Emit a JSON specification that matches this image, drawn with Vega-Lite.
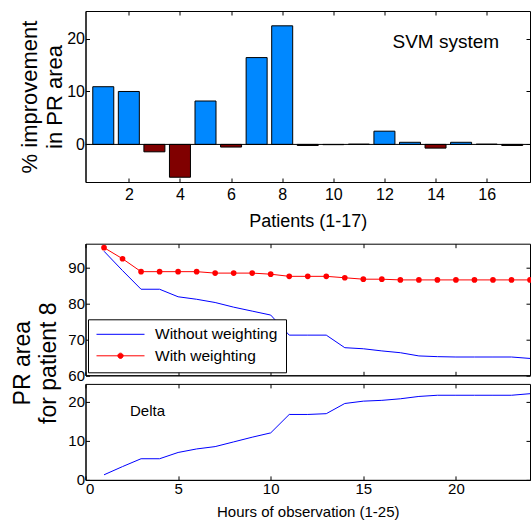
{
  "$schema": "https://vega.github.io/schema/vega-lite/v6.json",
  "padding": {"left": 10.5, "top": 10, "right": 0, "bottom": 0},
  "autosize": {"type": "pad"},
  "background": "white",
  "bounds": "flush",
  "spacing": 61.7,
  "config": {
    "font": "Liberation Sans",
    "view": {"stroke": "black", "strokeWidth": 1},
    "axis": {"grid": false, "domainColor": "black", "tickColor": "black", "labelColor": "black", "titleColor": "black", "tickSize": -4, "labelPadding": 6, "titleFontWeight": "normal", "labelFont": "Liberation Sans", "titleFont": "Liberation Sans"},
    "axisY": {"labelPadding": 5},
    "legend": {"labelFont": "Liberation Sans"},
    "text": {"font": "Liberation Sans", "color": "black"}
  },
  "datasets": {
    "bars": [
      {"patient": 1, "improvement": 10.9},
      {"patient": 2, "improvement": 10.0},
      {"patient": 3, "improvement": -1.4},
      {"patient": 4, "improvement": -6.2},
      {"patient": 5, "improvement": 8.2},
      {"patient": 6, "improvement": -0.5},
      {"patient": 7, "improvement": 16.4},
      {"patient": 8, "improvement": 22.4},
      {"patient": 9, "improvement": -0.2},
      {"patient": 10, "improvement": -0.05},
      {"patient": 11, "improvement": 0.05},
      {"patient": 12, "improvement": 2.5},
      {"patient": 13, "improvement": 0.4},
      {"patient": 14, "improvement": -0.7},
      {"patient": 15, "improvement": 0.4},
      {"patient": 16, "improvement": 0.05},
      {"patient": 17, "improvement": -0.2}
    ],
    "pr": [
      {"hour": 1, "series": "Without weighting", "value": 94.6},
      {"hour": 2, "series": "Without weighting", "value": 89.2},
      {"hour": 3, "series": "Without weighting", "value": 84.0},
      {"hour": 4, "series": "Without weighting", "value": 84.0},
      {"hour": 5, "series": "Without weighting", "value": 81.9},
      {"hour": 6, "series": "Without weighting", "value": 81.2},
      {"hour": 7, "series": "Without weighting", "value": 80.3},
      {"hour": 8, "series": "Without weighting", "value": 79.0},
      {"hour": 9, "series": "Without weighting", "value": 77.9},
      {"hour": 10, "series": "Without weighting", "value": 76.8},
      {"hour": 11, "series": "Without weighting", "value": 71.2},
      {"hour": 12, "series": "Without weighting", "value": 71.2},
      {"hour": 13, "series": "Without weighting", "value": 71.2},
      {"hour": 14, "series": "Without weighting", "value": 67.7},
      {"hour": 15, "series": "Without weighting", "value": 67.4},
      {"hour": 16, "series": "Without weighting", "value": 66.8},
      {"hour": 17, "series": "Without weighting", "value": 66.3},
      {"hour": 18, "series": "Without weighting", "value": 65.4},
      {"hour": 19, "series": "Without weighting", "value": 65.2},
      {"hour": 20, "series": "Without weighting", "value": 65.1},
      {"hour": 21, "series": "Without weighting", "value": 65.1},
      {"hour": 22, "series": "Without weighting", "value": 65.1},
      {"hour": 23, "series": "Without weighting", "value": 65.1},
      {"hour": 24, "series": "Without weighting", "value": 64.7},
      {"hour": 1, "series": "With weighting", "value": 95.6},
      {"hour": 2, "series": "With weighting", "value": 92.5},
      {"hour": 3, "series": "With weighting", "value": 88.9},
      {"hour": 4, "series": "With weighting", "value": 88.9},
      {"hour": 5, "series": "With weighting", "value": 88.9},
      {"hour": 6, "series": "With weighting", "value": 88.9},
      {"hour": 7, "series": "With weighting", "value": 88.5},
      {"hour": 8, "series": "With weighting", "value": 88.5},
      {"hour": 9, "series": "With weighting", "value": 88.5},
      {"hour": 10, "series": "With weighting", "value": 88.2},
      {"hour": 11, "series": "With weighting", "value": 87.6},
      {"hour": 12, "series": "With weighting", "value": 87.6},
      {"hour": 13, "series": "With weighting", "value": 87.6},
      {"hour": 14, "series": "With weighting", "value": 87.2},
      {"hour": 15, "series": "With weighting", "value": 86.8},
      {"hour": 16, "series": "With weighting", "value": 86.8},
      {"hour": 17, "series": "With weighting", "value": 86.6},
      {"hour": 18, "series": "With weighting", "value": 86.6},
      {"hour": 19, "series": "With weighting", "value": 86.6},
      {"hour": 20, "series": "With weighting", "value": 86.6},
      {"hour": 21, "series": "With weighting", "value": 86.6},
      {"hour": 22, "series": "With weighting", "value": 86.6},
      {"hour": 23, "series": "With weighting", "value": 86.6},
      {"hour": 24, "series": "With weighting", "value": 86.6}
    ],
    "delta": [
      {"hour": 1, "delta": 1.3},
      {"hour": 2, "delta": 3.4},
      {"hour": 3, "delta": 5.4},
      {"hour": 4, "delta": 5.4},
      {"hour": 5, "delta": 7.0},
      {"hour": 6, "delta": 7.9},
      {"hour": 7, "delta": 8.5},
      {"hour": 8, "delta": 9.7},
      {"hour": 9, "delta": 10.9},
      {"hour": 10, "delta": 12.0},
      {"hour": 11, "delta": 16.7},
      {"hour": 12, "delta": 16.7},
      {"hour": 13, "delta": 16.9},
      {"hour": 14, "delta": 19.5},
      {"hour": 15, "delta": 20.1},
      {"hour": 16, "delta": 20.3},
      {"hour": 17, "delta": 20.7},
      {"hour": 18, "delta": 21.3},
      {"hour": 19, "delta": 21.6},
      {"hour": 20, "delta": 21.6},
      {"hour": 21, "delta": 21.6},
      {"hour": 22, "delta": 21.6},
      {"hour": 23, "delta": 21.6},
      {"hour": 24, "delta": 22.0}
    ]
  },
  "vconcat": [
    {
      "width": 444.5,
      "height": 171,
      "data": {"name": "bars"},
      "layer": [
        {
          "mark": {"type": "bar", "stroke": "black", "strokeWidth": 1, "width": 21},
          "encoding": {
            "x": {"field": "patient", "type": "quantitative",
                  "scale": {"domain": [0.5, 17.5], "nice": false, "zero": false},
                  "axis": {"orient": "bottom", "values": [2, 4, 6, 8, 10, 12, 14, 16], "labelFontSize": 16, "labelPadding": 8, "title": "Patients (1-17)", "titleFontSize": 18, "titlePadding": 10}},
            "y": {"field": "improvement", "type": "quantitative",
                  "scale": {"domain": [-7.1, 25.2], "nice": false, "zero": false},
                  "axis": {"orient": "left", "values": [0, 10, 20], "labelFontSize": 16, "title": ["% improvement", "in PR area"], "titleFontSize": 22, "titleLineHeight": 25, "titlePadding": 0}},
            "color": {"condition": {"test": "datum.improvement < 0", "value": "#800000"}, "value": "#0088ff"}
          }
        },
        {
          "data": {"values": [{}]},
          "mark": {"type": "rule", "color": "black", "strokeWidth": 1},
          "encoding": {"y": {"datum": 0, "axis": null}}
        },
        {
          "data": {"values": [{}]},
          "mark": {"type": "text", "fontSize": 19},
          "encoding": {"x": {"datum": 14.4, "axis": null}, "y": {"datum": 19.3, "axis": null}, "text": {"value": "SVM system"}}
        },
        {
          "mark": {"type": "point", "opacity": 0},
          "encoding": {
            "x": {"field": "patient", "type": "quantitative", "axis": {"orient": "top", "values": [2, 4, 6, 8, 10, 12, 14, 16], "labels": false, "domain": false, "title": null}},
            "y": {"field": "improvement", "type": "quantitative", "axis": {"orient": "right", "values": [0, 10, 20], "labels": false, "domain": false, "title": null}}
          }
        }
      ],
      "resolve": {"axis": {"x": "independent", "y": "independent"}}
    },
    {
      "bounds": "flush",
      "spacing": 8.2,
      "vconcat": [
        {
          "width": 444.5,
          "height": 131.6,
          "data": {"name": "pr"},
          "layer": [
            {
              "mark": {"type": "line", "strokeWidth": 1},
              "encoding": {
                "x": {"field": "hour", "type": "quantitative", "scale": {"domain": [0, 24], "nice": false},
                      "axis": {"orient": "bottom", "values": [0, 5, 10, 15, 20], "labels": false, "title": null}},
                "y": {"field": "value", "type": "quantitative", "scale": {"domain": [60, 96.7], "nice": false, "zero": false},
                      "axis": {"orient": "left", "values": [60, 70, 80, 90], "labelFontSize": 15, "title": ["PR area", "for patient 8"], "titleFontSize": 23, "titleLineHeight": 26, "titleY": 119, "titlePadding": 7}},
                "color": {"field": "series", "type": "nominal",
                          "scale": {"domain": ["Without weighting", "With weighting"], "range": ["#0000ff", "#ff0000"]},
                          "legend": {
                            "title": null, "orient": "none", "legendX": 2.5, "legendY": 308.3,
                            "fillColor": "white", "strokeColor": "black", "padding": 8,
                            "labelFontSize": 15.5, "labelColor": "black", "labelOffset": 10,
                            "symbolType": "stroke", "symbolSize": 2304, "symbolStrokeWidth": 1,
                            "clipHeight": 14, "rowPadding": 5.5,
                            "encode": {
                              "symbols": {"update": {
                                "shape": {"signal": "datum.value === 'With weighting' ? 'M-1,0H1M0.11,0A0.11,0.11 0 1,1 -0.11,0A0.11,0.11 0 1,1 0.11,0Z' : 'M-1,0H1'"},
                                "fill": {"signal": "datum.value === 'With weighting' ? '#ff0000' : 'transparent'"}
                              }}
                            }
                          }}
              }
            },
            {
              "transform": [{"filter": "datum.series === 'With weighting'"}],
              "mark": {"type": "point", "filled": true, "color": "#ff0000", "size": 32, "opacity": 1},
              "encoding": {
                "x": {"field": "hour", "type": "quantitative", "axis": null},
                "y": {"field": "value", "type": "quantitative", "axis": null}
              }
            },
            {
              "mark": {"type": "point", "opacity": 0},
              "encoding": {
                "x": {"field": "hour", "type": "quantitative", "axis": {"orient": "top", "values": [0, 5, 10, 15, 20], "labels": false, "domain": false, "title": null}},
                "y": {"field": "value", "type": "quantitative", "axis": {"orient": "right", "values": [60, 70, 80, 90], "labels": false, "domain": false, "title": null}}
              }
            }
          ],
          "resolve": {"axis": {"x": "independent", "y": "independent"}}
        },
        {
          "width": 444.5,
          "height": 96,
          "data": {"name": "delta"},
          "layer": [
            {
              "mark": {"type": "line", "color": "#0000ff", "strokeWidth": 1},
              "encoding": {
                "x": {"field": "hour", "type": "quantitative", "scale": {"domain": [0, 24], "nice": false},
                      "axis": {"orient": "bottom", "values": [0, 5, 10, 15, 20], "labelFontSize": 15, "title": "Hours of observation (1-25)", "titleFontSize": 15, "titlePadding": 8}},
                "y": {"field": "delta", "type": "quantitative", "scale": {"domain": [0, 24.5], "nice": false},
                      "axis": {"orient": "left", "values": [0, 10, 20], "labelFontSize": 15, "title": null}}
              }
            },
            {
              "data": {"values": [{}]},
              "mark": {"type": "text", "fontSize": 15},
              "encoding": {"x": {"datum": 3.35, "axis": null}, "y": {"datum": 17.6, "axis": null}, "text": {"value": "Delta"}}
            },
            {
              "mark": {"type": "point", "opacity": 0},
              "encoding": {
                "x": {"field": "hour", "type": "quantitative", "axis": {"orient": "top", "values": [0, 5, 10, 15, 20], "labels": false, "domain": false, "title": null}},
                "y": {"field": "delta", "type": "quantitative", "axis": {"orient": "right", "values": [0, 10, 20], "labels": false, "domain": false, "title": null}}
              }
            }
          ],
          "resolve": {"axis": {"x": "independent", "y": "independent"}}
        }
      ]
    }
  ]
}
